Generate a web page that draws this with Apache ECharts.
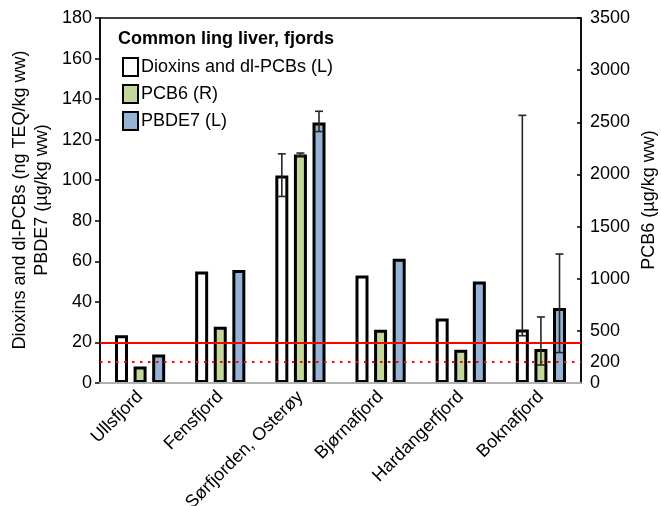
<!DOCTYPE html>
<html>
<head>
<meta charset="utf-8">
<script src="https://cdn.jsdelivr.net/npm/echarts@6/dist/echarts.min.js"></script>
<style>
  html, body { margin: 0; padding: 0; background: #fff; }
  #chart { width: 661px; height: 506px; }
</style>
</head>
<body>
<div id="chart"></div>
<script>
// Fjords sampled for common ling liver
const fjords = ['Ullsfjord', 'Fensfjord', 'Sørfjorden, Osterøy', 'Bjørnafjord', 'Hardangerfjord', 'Boknafjord'];

// Concentrations per fjord
const dioxins = [23.5, 55, 102.3, 53, 31.8, 26.4];   // ng TEQ/kg ww (left axis)
const pcb6 = [158, 540, 2190, 510, 320, 325];         // µg/kg ww (right axis)
const pbde7 = [14, 55.7, 128.5, 61.3, 50, 37];        // µg/kg ww (left axis)

// Error ranges: [fjord index, low, high]
const dioxinsErr = [[2, 92, 113], [5, 23.3, 132]];
const pcb6Err = [[2, 2180, 2205], [5, 173, 633]];
const pbde7Err = [[2, 124, 134], [5, 15, 63.6]];

// Reference levels
const dioxinLimit = 20;   // left axis
const pcb6Limit = 200;    // right axis

// Axis ticks
const leftTicks = { min: 0, max: 180, interval: 20 };
const rightLabels = [0, 200, 500, 1000, 1500, 2000, 2500, 3000, 3500];
const rightTicks = [500, 1000, 1500, 2000, 2500, 3000, 3500];

const seriesNames = ['Dioxins and dl-PCBs (L)', 'PCB6 (R)', 'PBDE7 (L)'];
const FONT = '"Liberation Sans", Arial, sans-serif';

const BAR_W = 13;
const BAR_GAP = 0.43;
const step = BAR_W * (1 + BAR_GAP);

function errorSeries(name, data, axisIndex, offset) {
  return {
    name: name,
    type: 'custom',
    yAxisIndex: axisIndex,
    z: 5,
    silent: true,
    data: data,
    renderItem: function (params, api) {
      const idx = api.value(0);
      const lo = api.coord([idx, api.value(1)]);
      const hi = api.coord([idx, api.value(2)]);
      const x = lo[0] + offset;
      const cap = 4;
      const style = { stroke: '#262626', lineWidth: 1.6 };
      return {
        type: 'group',
        children: [
          { type: 'line', shape: { x1: x, y1: lo[1], x2: x, y2: hi[1] }, style: style },
          { type: 'line', shape: { x1: x - cap, y1: hi[1], x2: x + cap, y2: hi[1] }, style: style },
          { type: 'line', shape: { x1: x - cap, y1: lo[1], x2: x + cap, y2: lo[1] }, style: style }
        ]
      };
    }
  };
}

const chart = echarts.init(document.getElementById('chart'), null, { renderer: 'canvas' });

const barStyle = function (color) {
  return { color: color, borderColor: '#000', borderWidth: 3 };
};

chart.setOption({
  animation: false,
  backgroundColor: '#fff',
  textStyle: { fontFamily: FONT, color: '#000' },
  title: {
    text: 'Common ling liver, fjords',
    left: 118,
    top: 30,
    padding: 0,
    textStyle: { fontFamily: FONT, fontSize: 18, fontWeight: 'bold', color: '#000' }
  },
  legend: {
    data: seriesNames,
    orient: 'vertical',
    left: 122,
    top: 57,
    padding: 0,
    itemGap: 7,
    itemWidth: 15,
    itemHeight: 18,
    icon: 'rect',
    selectedMode: false,
    itemStyle: { borderColor: '#000', borderWidth: 2 },
    textStyle: { fontFamily: FONT, fontSize: 18, color: '#000', padding: [0, 0, 0, -2] }
  },
  grid: {
    left: 100,
    right: 80,
    top: 18,
    bottom: 123,
    containLabel: false,
    outerBoundsMode: 'none',
    show: true,
    borderColor: '#000',
    borderWidth: 1.5,
    backgroundColor: 'transparent'
  },
  xAxis: {
    type: 'category',
    data: fjords,
    axisLine: { lineStyle: { color: '#b0b0b0', width: 2 } },
    axisTick: { show: false },
    axisLabel: {
      rotate: 45,
      margin: 11,
      fontSize: 18,
      fontFamily: FONT,
      color: '#000',
      interval: 0
    },
    z: 10
  },
  yAxis: [
    {
      type: 'value',
      min: leftTicks.min,
      max: leftTicks.max,
      interval: leftTicks.interval,
      splitLine: { show: false },
      axisLine: { show: true, lineStyle: { color: '#000', width: 1.5 } },
      axisTick: { show: true, inside: false, length: 5, lineStyle: { color: '#000', width: 1.5 } },
      axisLabel: { fontSize: 18, fontFamily: FONT, color: '#000', margin: 8 }
    },
    {
      type: 'value',
      min: 0,
      max: 3500,
      interval: 500,
      position: 'right',
      splitLine: { show: false },
      axisLine: { show: true, lineStyle: { color: '#000', width: 1.5 } },
      axisTick: { show: true, inside: true, length: 4, customValues: rightTicks, lineStyle: { color: '#000', width: 1.5 } },
      axisLabel: {
        fontSize: 18, fontFamily: FONT, color: '#000', margin: 9,
        customValues: rightLabels,
        formatter: function (v) { return String(v); }
      }
    }
  ],
  graphic: [
    {
      type: 'text',
      x: 31,
      y: 200,
      rotation: Math.PI / 2,
      style: {
        text: 'Dioxins and dl-PCBs (ng TEQ/kg ww)\nPBDE7 (µg/kg ww)',
        font: '18px ' + FONT,
        fill: '#000',
        align: 'center',
        verticalAlign: 'middle',
        lineHeight: 22
      }
    },
    {
      type: 'text',
      x: 649,
      y: 200,
      rotation: Math.PI / 2,
      style: {
        text: 'PCB6 (µg/kg ww)',
        font: '18px ' + FONT,
        fill: '#000',
        align: 'center',
        verticalAlign: 'middle'
      }
    }
  ],
  series: [
    {
      name: 'limit-left',
      type: 'line',
      data: [],
      yAxisIndex: 0,
      z: 1,
      markLine: {
        silent: true,
        symbol: 'none',
        label: { show: false },
        lineStyle: { color: '#ff0000', width: 2, type: 'solid' },
        data: [{ yAxis: dioxinLimit }]
      }
    },
    {
      name: 'limit-right',
      type: 'line',
      data: [],
      yAxisIndex: 1,
      z: 1,
      markLine: {
        silent: true,
        symbol: 'none',
        label: { show: false },
        lineStyle: { color: '#ff0000', width: 2, type: [2.5, 5.5] },
        data: [{ yAxis: pcb6Limit }]
      }
    },
    {
      name: seriesNames[0],
      type: 'bar',
      yAxisIndex: 0,
      data: dioxins,
      barWidth: BAR_W,
      barGap: (BAR_GAP * 100) + '%',
      itemStyle: barStyle('#ffffff'),
      z: 3
    },
    {
      name: seriesNames[1],
      type: 'bar',
      yAxisIndex: 1,
      data: pcb6,
      barWidth: BAR_W,
      barGap: (BAR_GAP * 100) + '%',
      itemStyle: barStyle('#c3d69b'),
      z: 3
    },
    {
      name: seriesNames[2],
      type: 'bar',
      yAxisIndex: 0,
      data: pbde7,
      barWidth: BAR_W,
      barGap: (BAR_GAP * 100) + '%',
      itemStyle: barStyle('#95b3d7'),
      z: 3
    },
    errorSeries('err-dioxins', dioxinsErr, 0, -step),
    errorSeries('err-pcb6', pcb6Err, 1, 0),
    errorSeries('err-pbde7', pbde7Err, 0, step)
  ]
});
</script>
</body>
</html>
